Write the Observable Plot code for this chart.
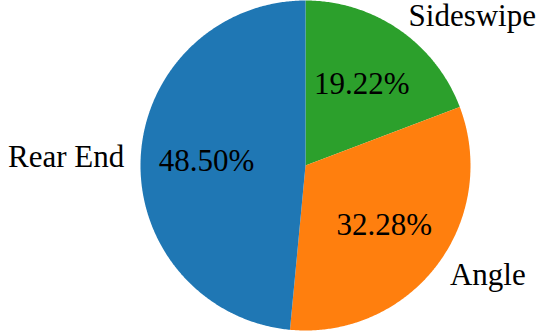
<!DOCTYPE html>
<html>
<head>
<meta charset="utf-8">
<script src="https://cdn.jsdelivr.net/npm/d3@7"></script>
<script src="https://cdn.jsdelivr.net/npm/@observablehq/plot@0.6"></script>
<style>
html,body{margin:0;padding:0;background:#fff;}
svg text, svg tspan{font-family:"Liberation Serif","Times New Roman",Times,serif !important;}
</style>
</head>
<body>
<div id="chart"></div>
<script>
const categories = ["Sideswipe", "Angle", "Rear End"];
const shares = [19.22, 32.28, 48.50];
const colors = ["#2ca02c", "#ff7f0e", "#1f77b4"];

const W = 544, H = 332;
const cx = 305, cy = 165, R = 165;
const FONT = "Liberation Serif";

const total = d3.sum(shares);
let acc = 0;
const slices = categories.map((c, i) => {
  const a0 = acc / total * 2 * Math.PI;
  acc += shares[i];
  const a1 = acc / total * 2 * Math.PI;
  return {category: c, value: shares[i], a0, a1, mid: (a0 + a1) / 2};
});

const pts = [];
for (const s of slices) {
  pts.push({category: s.category, x: 0, y: 0});
  const n = Math.max(2, Math.ceil((s.a1 - s.a0) / (Math.PI / 360)));
  for (let k = 0; k <= n; k++) {
    const a = s.a0 + (s.a1 - s.a0) * k / n;
    pts.push({category: s.category, x: Math.sin(a), y: Math.cos(a)});
  }
  pts.push({category: s.category, x: 0, y: 0});
}

const pctLabels = slices.map(s => ({text: d3.format(".2f")(s.value) + "%", x: 0.6 * Math.sin(s.mid), y: 0.6 * Math.cos(s.mid)}));
const nameLabels = slices.map(s => ({text: s.category, x: 1.1 * Math.sin(s.mid), y: 1.1 * Math.cos(s.mid), anchor: Math.sin(s.mid) >= 0 ? "start" : "end"}));

const chart = Plot.plot({
  width: W,
  height: H,
  margin: 0,
  x: {domain: [-cx / R, (W - cx) / R], axis: null},
  y: {domain: [-(H - cy) / R, cy / R], axis: null},
  color: {domain: categories, range: colors},
  marks: [
    Plot.line(pts, {x: "x", y: "y", z: "category", fill: "category", stroke: "none", curve: "linear"}),
    Plot.text(pctLabels, {x: "x", y: "y", text: "text", fontSize: 31, fontFamily: FONT, fill: "black", textAnchor: "middle"}),
    Plot.text(nameLabels.filter(d => d.anchor === "start"), {x: "x", y: "y", text: "text", fontSize: 31, fontFamily: FONT, fill: "black", textAnchor: "start"}),
    Plot.text(nameLabels.filter(d => d.anchor === "end"), {x: "x", y: "y", text: "text", fontSize: 31, fontFamily: FONT, fill: "black", textAnchor: "end"})
  ]
});
chart.setAttribute("font-family", FONT);
chart.querySelectorAll("text").forEach(t => t.style.setProperty("font-family", "'Liberation Serif', 'Times New Roman', serif", "important"));
document.getElementById("chart").appendChild(chart);
</script>
</body>
</html>
